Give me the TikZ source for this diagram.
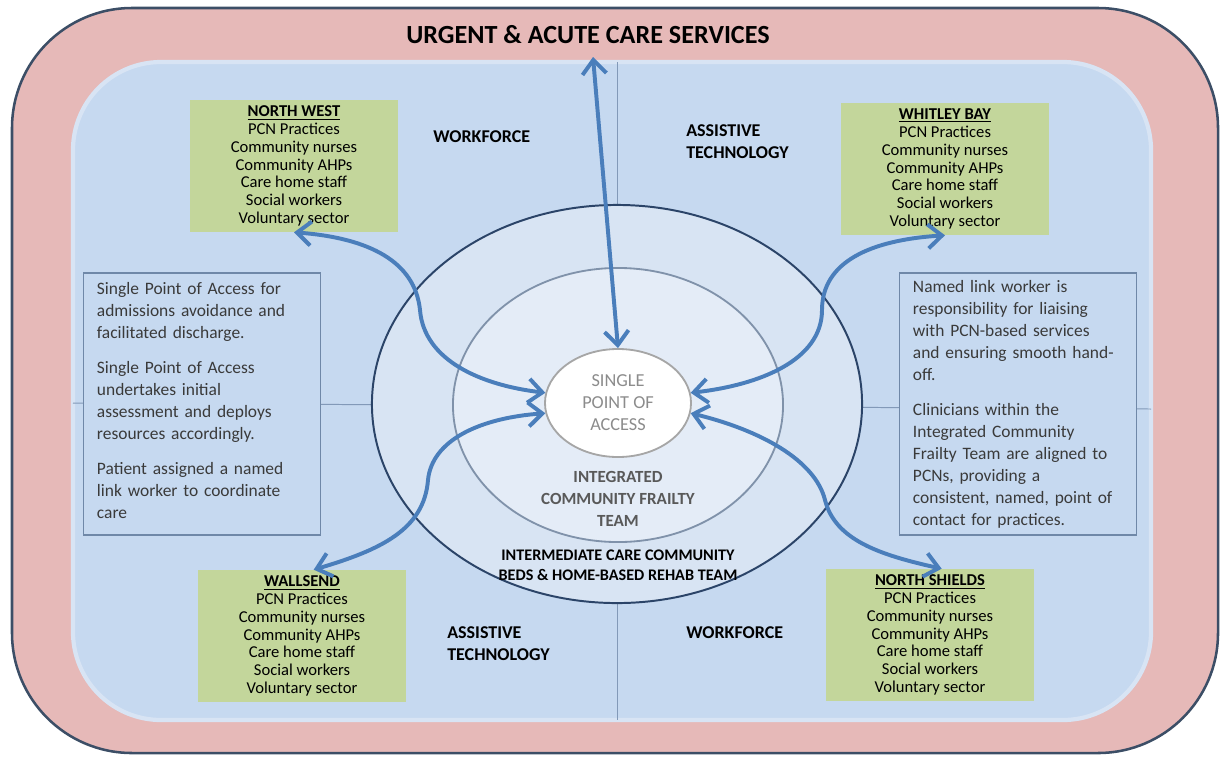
\documentclass[tikz,border=0pt]{standalone}
\usepackage{fontspec}
\setmainfont{Carlito}
\usetikzlibrary{shapes.geometric,arrows.meta}
\definecolor{pinkband}{HTML}{E6B9B8}
\definecolor{frameline}{HTML}{3C4E66}
\definecolor{bluebg}{HTML}{C6D9F0}
\definecolor{blueglow}{HTML}{D8E4F4}
\definecolor{divider}{HTML}{8299B8}
\definecolor{greenbox}{HTML}{C3D69B}
\definecolor{infoline}{HTML}{6F88A8}
\definecolor{infotext}{HTML}{3A3A3A}
\definecolor{arrowblue}{HTML}{4A7EBB}
\definecolor{ringouter}{HTML}{D8E4F3}
\definecolor{ringouterline}{HTML}{2B4468}
\definecolor{ringmid}{HTML}{E4ECF7}
\definecolor{ringmidline}{HTML}{8092AA}
\definecolor{coreline}{HTML}{A6A6A6}
\definecolor{coretext}{HTML}{8C8C8C}
\definecolor{teamtext}{HTML}{595959}

\begin{document}
\begin{tikzpicture}[x=0.025cm, y=-0.025cm,
  area/.style = {fill=greenbox, minimum width=5.2cm, minimum height=3.3cm, align=center, font=\fontsize{11.8}{12.66}\selectfont},
  info/.style = {draw=infoline, line width=0.8pt, fill=bluebg, text width=5.25cm, inner xsep=0.33cm, minimum height=6.55cm, align=left, text=infotext, font=\fontsize{12.4}{15.65}\selectfont},
  sector/.style = {inner sep=0pt, align=left, font=\bfseries\fontsize{12.8}{15.65}\selectfont},
  ring/.style = {ellipse, inner sep=0pt},
  flow/.style = {draw=arrowblue, line width=2.8pt, <->, >={Straight Barb[length=3.5mm,width=6mm]}}]
\useasboundingbox (0,0) rectangle (1221,758);
\draw[frameline, line width=1.8pt, fill=pinkband, rounded corners=3cm] (12,8) rectangle (1218,753);
\draw[blueglow, line width=3pt, fill=bluebg, rounded corners=2.2cm] (73,62) rectangle (1151,720);
\draw[divider, line width=0.7pt] (617,62) -- (617,720);
\draw[divider, line width=0.7pt] (73,403) -- (1151,409);

\node[ring, draw=ringouterline, line width=1.4pt, fill=ringouter, minimum width=12.25cm, minimum height=9.95cm] (imc) at (617,404) {};
\node[ring, draw=ringmidline, line width=1.3pt, fill=ringmid, minimum width=8.25cm, minimum height=6.85cm] (icft) at (618,405) {};
\node[ring, draw=coreline, line width=1.3pt, fill=white, minimum width=3.65cm, minimum height=2.7cm, align=center, text=coretext, font=\fontsize{13}{15.65}\selectfont] (spoa) at (618,403) {SINGLE\\POINT OF\\ACCESS};
\node[align=center, text=teamtext, font=\bfseries\fontsize{12.1}{15.65}\selectfont] (icftlabel) at (618,499) {INTEGRATED\\COMMUNITY FRAILTY\\TEAM};
\node[align=center, font=\bfseries\fontsize{11.5}{14.2}\selectfont] (imclabel) at (618,565) {INTERMEDIATE CARE COMMUNITY\\BEDS \& HOME-BASED REHAB TEAM};

\node[font=\bfseries\fontsize{18.6}{21}\selectfont] (title) at (588,35) {URGENT \& ACUTE CARE SERVICES};

\node[info] (spoainfo) at (202,404) {Single Point of Access for\\admissions avoidance and\\facilitated discharge.\\[9.2pt]Single Point of Access\\undertakes initial\\assessment and deploys\\resources accordingly.\\[9.2pt]Patient assigned a named\\link worker to coordinate\\care\strut};
\node[info] (linkinfo) at (1018,404) {Named link worker is\\responsibility for liaising\\with PCN-based services\\and ensuring smooth hand-\\off.\\[9.2pt]Clinicians within the\\Integrated Community\\Frailty Team are aligned to\\PCNs, providing a\\consistent, named, point of\\contact for practices.};

\node[area] (nw) at (294,166) {\underline{\textbf{NORTH WEST}}\\PCN Practices\\Community nurses\\Community AHPs\\Care home staff\\Social workers\\Voluntary sector};
\node[area] (wb) at (945,169) {\underline{\textbf{WHITLEY BAY}}\\PCN Practices\\Community nurses\\Community AHPs\\Care home staff\\Social workers\\Voluntary sector};
\node[area] (ws) at (302,636) {\underline{\textbf{WALLSEND}}\\PCN Practices\\Community nurses\\Community AHPs\\Care home staff\\Social workers\\Voluntary sector};
\node[area] (ns) at (930,635) {\underline{\textbf{NORTH SHIELDS}}\\PCN Practices\\Community nurses\\Community AHPs\\Care home staff\\Social workers\\Voluntary sector};

\node[sector, anchor=west] (wftop) at (433,137) {WORKFORCE};
\node[sector, anchor=west] (attop) at (686,142) {ASSISTIVE\\TECHNOLOGY};
\node[sector, anchor=west] (atbottom) at (447,644) {ASSISTIVE\\TECHNOLOGY};
\node[sector, anchor=west] (wfbottom) at (686,633) {WORKFORCE};

\coordinate (urgent) at (593,57);
\draw[flow] (urgent) -- (spoa.north);
\draw[flow] (nw.south) .. controls (370,238) and (415,262) .. (420,310) .. controls (424,360) and (480,385) .. (spoa.172);
\draw[flow] (wb.south) .. controls (870,240) and (822,262) .. (822,310) .. controls (822,360) and (760,385) .. (spoa.8);
\draw[flow] (ws.80) .. controls (380,550) and (424,530) .. (428,480) .. controls (432,440) and (480,418) .. (spoa.188);
\draw[flow] (ns.80) .. controls (880,555) and (835,540) .. (825,500) .. controls (815,460) and (760,430) .. (spoa.352);
\end{tikzpicture}
\end{document}
